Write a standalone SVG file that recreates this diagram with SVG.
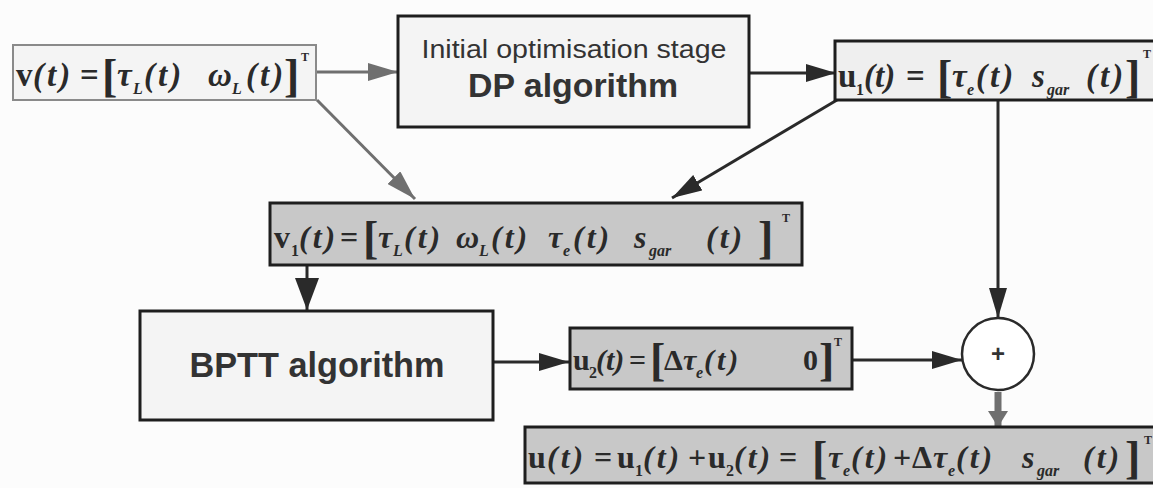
<svg xmlns="http://www.w3.org/2000/svg" width="1153" height="488" viewBox="0 0 1153 488">
<style>
.bg{fill:#fcfcfc}
.box{stroke:#1e1e1e;stroke-width:3}
.lt{fill:#f4f4f4}
.dk{fill:#c8c8c8}
.m{font-family:"Liberation Serif",serif;font-weight:bold;font-style:italic;font-size:32px;fill:#2a2a2a}
.u{font-style:normal}
.pt{letter-spacing:3px}
.s{font-size:16px;letter-spacing:0}
.k{font-size:46px;font-style:normal}
.p{font-size:12px;font-style:normal}
.t{font-family:"Liberation Sans",Arial,sans-serif;fill:#333}
.c{fill:none;stroke-width:3}
.cd{stroke:#2a2a2a}
.cg{stroke:#6f6f6f}
</style>
<defs>
<marker id="ad" markerUnits="userSpaceOnUse" markerWidth="30" markerHeight="18" refX="30" refY="9" orient="auto"><path d="M0,0 L30,9 L0,18 z" fill="#2a2a2a"/></marker>
<marker id="ag" markerUnits="userSpaceOnUse" markerWidth="30" markerHeight="18" refX="30" refY="9" orient="auto"><path d="M0,0 L30,9 L0,18 z" fill="#6f6f6f"/></marker>
<marker id="aw" markerUnits="userSpaceOnUse" markerWidth="32" markerHeight="24" refX="32" refY="12" orient="auto"><path d="M0,0 L32,12 L0,24 z" fill="#2a2a2a"/></marker>
<marker id="ab" markerUnits="userSpaceOnUse" markerWidth="16" markerHeight="20" refX="16" refY="10" orient="auto"><path d="M0,0 L16,10 L0,20 z" fill="#6f6f6f"/></marker>
</defs>
<rect class="bg" x="0" y="0" width="1153" height="488"/>

<g id="connectors">
<line class="c cg" x1="316" y1="72" x2="398" y2="72" marker-end="url(#ag)"/>
<line class="c cd" x1="749" y1="73" x2="836" y2="73" marker-end="url(#ad)"/>
<line class="c cg" x1="317" y1="100" x2="415" y2="199" marker-end="url(#ag)"/>
<line class="c cd" x1="837" y1="100" x2="672" y2="198" marker-end="url(#ad)"/>
<line class="c cd" x1="307" y1="265" x2="307" y2="310" marker-end="url(#aw)"/>
<line class="c cd" x1="998" y1="100" x2="998" y2="318" marker-end="url(#ad)"/>
<line class="c cd" x1="493" y1="362" x2="569" y2="362" marker-end="url(#ad)"/>
<line class="c cd" x1="852" y1="360" x2="962" y2="360" marker-end="url(#ad)"/>
<line class="cg" style="stroke-width:7;fill:none" x1="998" y1="392" x2="998" y2="427" marker-end="url(#ab)"/>
</g>

<g id="node-v">
<rect x="13" y="45" width="303" height="55" class="lt" style="stroke:#8a8a8a;stroke-width:2"/>
<text class="m" style="font-size:33px"><tspan class="u" x="16" y="86">v</tspan><tspan class="pt" x="33" y="86">(t)</tspan><tspan class="u" x="80" y="86">=</tspan><tspan class="k" x="102" y="91">[</tspan><tspan x="117" y="86">τ</tspan><tspan class="s" x="133" y="94">L</tspan><tspan class="pt" x="144" y="86">(t)</tspan><tspan x="208" y="86">ω</tspan><tspan class="s" x="232" y="94">L</tspan><tspan class="pt" x="246" y="86">(t)</tspan><tspan class="k" x="284" y="91">]</tspan><tspan class="p" x="301" y="61">T</tspan></text>
</g>

<g id="node-dp">
<rect x="398" y="16" width="351" height="111" class="box lt"/>
<text class="t" x="574" y="58" text-anchor="middle" font-size="25" textLength="305" lengthAdjust="spacingAndGlyphs">Initial optimisation stage</text>
<text class="t" x="573" y="97" text-anchor="middle" font-size="33" font-weight="bold" textLength="210" lengthAdjust="spacingAndGlyphs">DP algorithm</text>
</g>

<g id="node-u1">
<rect x="835" y="41" width="330" height="59" class="box" style="fill:#efefef"/>
<text class="m" style="font-size:33px"><tspan class="u" x="838" y="87">u</tspan><tspan class="s u" x="856" y="95">1</tspan><tspan x="864" y="87">(t)</tspan><tspan class="u" x="906" y="87">=</tspan><tspan class="k" x="937" y="92">[</tspan><tspan x="952" y="87">τ</tspan><tspan class="s" x="967" y="95">e</tspan><tspan class="pt" x="976" y="87">(t)</tspan><tspan x="1032" y="87">s</tspan><tspan class="s" x="1047" y="95">gar</tspan><tspan class="pt" x="1086" y="87">(t)</tspan><tspan class="k" x="1125" y="92">]</tspan><tspan class="p" x="1143" y="58">T</tspan></text>
</g>

<g id="node-v1">
<rect x="270" y="203" width="532" height="62" class="box dk"/>
<text class="m"><tspan class="u" x="274" y="248">v</tspan><tspan class="s u" x="291" y="256">1</tspan><tspan class="pt" x="299" y="248">(t)</tspan><tspan class="u" x="340" y="248">=</tspan><tspan class="k" x="363" y="253">[</tspan><tspan x="378" y="248">τ</tspan><tspan class="s" x="393" y="256">L</tspan><tspan class="pt" x="404" y="248">(t)</tspan><tspan x="456" y="248">ω</tspan><tspan class="s" x="479" y="256">L</tspan><tspan class="pt" x="491" y="248">(t)</tspan><tspan x="548" y="248">τ</tspan><tspan class="s" x="563" y="256">e</tspan><tspan class="pt" x="573" y="248">(t)</tspan><tspan x="634" y="248">s</tspan><tspan class="s" x="649" y="256">gar</tspan><tspan class="pt" x="706" y="248">(t)</tspan><tspan class="k" x="758" y="253">]</tspan><tspan class="p" x="782" y="222">T</tspan></text>
</g>

<g id="node-bptt">
<rect x="140" y="311" width="353" height="109" class="box lt"/>
<text class="t" x="317" y="377" text-anchor="middle" font-size="35" font-weight="bold" textLength="255" lengthAdjust="spacingAndGlyphs">BPTT algorithm</text>
</g>

<g id="node-u2">
<rect x="570" y="328" width="282" height="61" class="box dk"/>
<text class="m" style="font-size:30px"><tspan class="u" x="573" y="370">u</tspan><tspan class="s u" x="589" y="378">2</tspan><tspan x="596" y="370">(t)</tspan><tspan class="u" x="629" y="370">=</tspan><tspan class="k" x="650" y="375">[</tspan><tspan class="u" x="664" y="370">Δ</tspan><tspan x="683" y="370">τ</tspan><tspan class="s" x="696" y="378">e</tspan><tspan class="pt" x="704" y="370">(t)</tspan><tspan class="u" x="803" y="370">0</tspan><tspan class="k" x="819" y="375">]</tspan><tspan class="p" x="834" y="346">T</tspan></text>
</g>

<g id="node-sum">
<circle cx="998" cy="354" r="36" fill="#ffffff" stroke="#2a2a2a" stroke-width="2.5"/>
<text class="t" x="998" y="362" text-anchor="middle" font-size="24" font-weight="bold">+</text>
</g>

<g id="node-u">
<rect x="525" y="427" width="640" height="56" class="box dk"/>
<text class="m"><tspan class="u" x="528" y="468">u</tspan><tspan class="pt" x="547" y="468">(t)</tspan><tspan class="u" x="594" y="468">=</tspan><tspan class="u" x="617" y="468">u</tspan><tspan class="s u" x="635" y="476">1</tspan><tspan class="pt" x="643" y="468">(t)</tspan><tspan class="u" x="688" y="468">+</tspan><tspan class="u" x="708" y="468">u</tspan><tspan class="s u" x="726" y="476">2</tspan><tspan class="pt" x="734" y="468">(t)</tspan><tspan class="u" x="779" y="468">=</tspan><tspan class="k" x="812" y="473">[</tspan><tspan x="828" y="468">τ</tspan><tspan class="s" x="843" y="476">e</tspan><tspan class="pt" x="851" y="468">(t)</tspan><tspan class="u" x="893" y="468">+</tspan><tspan class="u" x="912" y="468">Δ</tspan><tspan x="933" y="468">τ</tspan><tspan class="s" x="948" y="476">e</tspan><tspan class="pt" x="956" y="468">(t)</tspan><tspan x="1022" y="468">s</tspan><tspan class="s" x="1037" y="476">gar</tspan><tspan class="pt" x="1083" y="468">(t)</tspan><tspan class="k" x="1125" y="473">]</tspan><tspan class="p" x="1144" y="444">T</tspan></text>
</g>
</svg>
